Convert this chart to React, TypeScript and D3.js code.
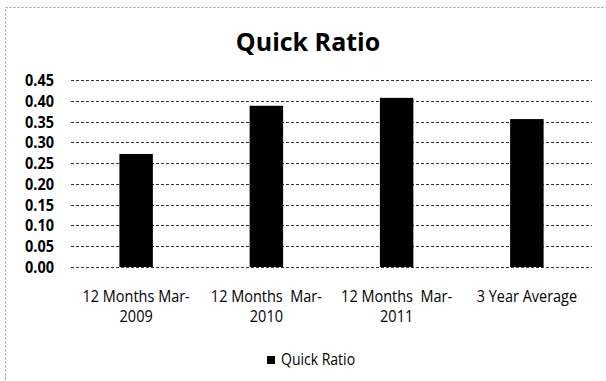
import React from "react";
import * as d3 from "d3";

const categories: string[][] = [
  ["12 Months Mar-", "2009"],
  ["12 Months  Mar-", "2010"],
  ["12 Months  Mar-", "2011"],
  ["3 Year Average"],
];
const quickRatio: number[] = [0.272, 0.388, 0.407, 0.356];
const yTicks: number[] = [0, 0.05, 0.1, 0.15, 0.2, 0.25, 0.3, 0.35, 0.4, 0.45];
const seriesName = "Quick Ratio";
const title = "Quick Ratio";

const W = 606;
const H = 381;
const font = "'Open Sans', 'DejaVu Sans', sans-serif";
// small labels are drawn slightly taller than wide
const stretch = "scale(1,1.12)";

export default function App() {
  const x = d3
    .scaleBand<number>()
    .domain(d3.range(categories.length))
    .range([71, 592])
    .paddingInner(0.743)
    .paddingOuter(0.3715);
  const y = d3.scaleLinear().domain([0, 0.45]).range([267, 80]);

  return (
    <svg
      width={W}
      height={H}
      style={{ position: "absolute", left: 0, top: 0, background: "#fff" }}
    >
      <rect
        x={5.5}
        y={7.5}
        width={700}
        height={500}
        fill="none"
        stroke="#999"
        strokeDasharray="2,2"
      />
      <text
        x={308}
        y={51}
        textAnchor="middle"
        fontFamily={font}
        fontWeight={700}
        fontSize={25}
        fill="#000"
      >
        {title}
      </text>
      {yTicks.map((t) => (
        <g key={t}>
          <line
            x1={71}
            x2={592}
            y1={Math.round(y(t)) + 0.5}
            y2={Math.round(y(t)) + 0.5}
            stroke="#333"
            strokeDasharray="3,2"
          />
          <g transform={`translate(54,${y(t) + 6})`}>
            <text
              transform={stretch}
              textAnchor="end"
              fontFamily={font}
              fontWeight={700}
              fontSize={14.5}
              fill="#000"
            >
              {d3.format(".2f")(t)}
            </text>
          </g>
        </g>
      ))}
      {quickRatio.map((v, i) => (
        <rect
          key={i}
          x={x(i)}
          y={y(v)}
          width={x.bandwidth()}
          height={y(0) - y(v)}
          fill="#000"
        />
      ))}
      {categories.map((lines, i) =>
        lines.map((l, j) => (
          <g
            key={`${i}-${j}`}
            transform={`translate(${(x(i) as number) + x.bandwidth() / 2},${301.5 + j * 20})`}
          >
            <text
              transform={stretch}
              textAnchor="middle"
              fontFamily={font}
              fontSize={14.5}
              fill="#000"
              style={{ whiteSpace: "pre" }}
            >
              {l}
            </text>
          </g>
        ))
      )}
      <rect x={267} y={356} width={8} height={8} fill="#000" />
      <g transform="translate(281,365)">
        <text transform={stretch} fontFamily={font} fontSize={14} fill="#000">
          {seriesName}
        </text>
      </g>
    </svg>
  );
}
